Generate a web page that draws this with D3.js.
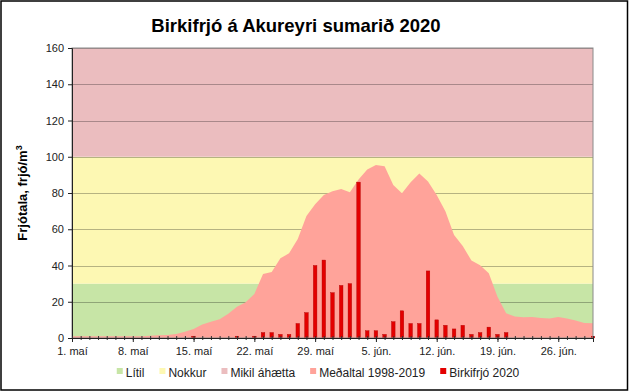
<!DOCTYPE html>
<html>
<head>
<meta charset="utf-8">
<script src="https://d3js.org/d3.v7.min.js"></script>
<style>
  body { margin: 0; background: #fff; }
  text { font-family: "Liberation Sans", Arial, sans-serif; }
</style>
</head>
<body>
<script>
// data, one value per day from 1. maí to 30. jún
const tickLabels = ["1. maí", "8. maí", "15. maí", "22. maí", "29. maí", "5. jún.", "12. jún.", "19. jún.", "26. jún."];
const meanValues = [1, 1, 1, 1, 1, 1, 1, 1, 1, 1.3, 1.5, 1.7, 2.2, 3.5, 5, 7.5, 9, 10.3, 13.4, 17.3,
  19.7, 24.3, 35.3, 36.4, 44, 46.7, 54.6, 67.3, 73.8, 78.9, 80.9, 82.2, 80.4, 87.5, 93, 95.4, 94.7, 84.4, 79.8, 85.9,
  90.7, 86.4, 78.9, 69.9, 56.8, 50.8, 42.7, 40.1, 35.7, 22.8, 13.6, 11.8, 11.4, 11.6, 11, 10.7, 11.6, 10.8, 9.7, 8.3, 8.1];
const values2020 = [0, 0, 0, 0, 0, 0, 0, 0, 0, 0, 0, 0, 0, 0, 1, 0, 0, 0, 0, 1,
  0, 1, 3, 3, 2, 2, 8, 14, 40, 43, 25, 29, 30, 86, 4, 4, 2, 9, 15, 8,
  8, 37, 10, 7, 5, 7, 2, 3, 6, 2, 3, 0, 0, 0, 0, 0, 0, 0, 0, 0, 1];
const bandNames = ["Lítil", "Nokkur", "Mikil áhætta"];
const bandLow = [0, 30, 100];
const bandHigh = [30, 100, 160];
const bandColors = ["#c7e5a6", "#fdf8b3", "#ebbdbf"];
const meanName = "Meðaltal 1998-2019";
const barName = "Birkifrjó 2020";

const width = 629, height = 392;
const margin = {left: 72, right: 36, top: 48, bottom: 54};

const svg = d3.select("body").append("svg")
  .attr("width", width)
  .attr("height", height);

svg.append("rect")
  .attr("x", 1).attr("y", 1)
  .attr("width", width - 2.5).attr("height", height - 3)
  .attr("fill", "#fff")
  .attr("stroke", "#000")
  .attr("stroke-width", 1.5);

const days = d3.range(meanValues.length);

const x = d3.scaleLinear()
  .domain([0, days.length - 1])
  .range([margin.left, width - margin.right]);

const y = d3.scaleLinear()
  .domain([0, 160])
  .range([height - margin.bottom, margin.top]);

// risk bands
svg.selectAll(".band")
  .data(bandNames)
  .enter().append("rect")
  .attr("x", x(0))
  .attr("width", x(days.length - 1) - x(0))
  .attr("y", (d, i) => y(bandHigh[i]))
  .attr("height", (d, i) => y(bandLow[i]) - y(bandHigh[i]))
  .attr("fill", (d, i) => bandColors[i]);

// gridlines
svg.append("g")
  .selectAll("line")
  .data(d3.range(20, 161, 20))
  .enter().append("line")
  .attr("x1", x(0)).attr("x2", x(days.length - 1))
  .attr("y1", d => Math.round(y(d)) + 0.5)
  .attr("y2", d => Math.round(y(d)) + 0.5)
  .attr("stroke", "#000")
  .attr("stroke-opacity", 0.28);

// average 1998-2019
const area = d3.area()
  .x(d => x(d))
  .y0(y(0))
  .y1(d => y(meanValues[d]));

svg.append("path")
  .datum(days)
  .attr("d", area)
  .attr("fill", "#ffa39a");

// 2020 bars
const barW = 3.6;
svg.append("g")
  .selectAll("rect")
  .data(days.filter(d => values2020[d] > 0))
  .enter().append("rect")
  .attr("x", d => x(d) - barW / 2)
  .attr("width", barW)
  .attr("y", d => y(values2020[d]))
  .attr("height", d => y(0) - y(values2020[d]))
  .attr("fill", "#e30000")
  .attr("stroke", "#b00000")
  .attr("stroke-width", 0.4);

// plot border
svg.append("rect")
  .attr("x", x(0)).attr("y", y(160))
  .attr("width", x(days.length - 1) - x(0))
  .attr("height", y(0) - y(160))
  .attr("fill", "none")
  .attr("stroke", "#8a8a8a")
  .attr("stroke-width", 1);

// y axis
const yAxis = svg.append("g")
  .attr("transform", `translate(${x(0)},0)`)
  .call(d3.axisLeft(y).tickValues(d3.range(0, 161, 20)).tickSize(4).tickPadding(4));
yAxis.select(".domain").attr("stroke", "#222");
yAxis.selectAll(".tick line").attr("stroke", "#222");
yAxis.selectAll(".tick text")
  .attr("font-size", 11)
  .attr("fill", "#222")
  .style("font-family", "'Liberation Sans', Arial, sans-serif");

// x axis: minor ticks every day
const xMinor = svg.append("g")
  .attr("transform", `translate(0,${y(0)})`)
  .call(d3.axisBottom(x).tickValues(days).tickSize(2).tickFormat(""));
xMinor.select(".domain").remove();
xMinor.selectAll(".tick line").attr("y1", -2).attr("y2", 2).attr("stroke", "#333");

// x axis: weekly labels
const xAxis = svg.append("g")
  .attr("transform", `translate(0,${y(0)})`)
  .call(d3.axisBottom(x)
    .tickValues(d3.range(0, days.length, 7))
    .tickSize(4)
    .tickPadding(5)
    .tickFormat((d, i) => tickLabels[i]));
xAxis.select(".domain").attr("stroke", "#222");
xAxis.selectAll(".tick line").attr("stroke", "#222");
xAxis.selectAll(".tick text")
  .attr("font-size", 11)
  .attr("fill", "#222")
  .style("font-family", "'Liberation Sans', Arial, sans-serif");

// title
svg.append("text")
  .attr("x", 296)
  .attr("y", 32)
  .attr("text-anchor", "middle")
  .attr("font-size", 18.5)
  .attr("font-weight", "bold")
  .text("Birkifrjó á Akureyri sumarið 2020");

// y axis title
const yTitle = svg.append("text")
  .attr("transform", `translate(27,${(y(0) + y(160)) / 2}) rotate(-90)`)
  .attr("text-anchor", "middle")
  .attr("font-size", 13)
  .attr("font-weight", "bold");
yTitle.append("tspan").text("Frjótala, frjó/m");
yTitle.append("tspan").attr("font-size", 9).attr("dy", -5).text("3");

// legend
const legendItems = bandNames.concat([meanName, barName]);
const legendColors = bandColors.concat(["#ffa39a", "#e30000"]);
const legend = svg.append("g");
let lx = 0;
legendItems.forEach((name, i) => {
  const g = legend.append("g").attr("transform", `translate(${lx},0)`);
  g.append("rect")
    .attr("x", 0).attr("y", -5)
    .attr("width", 6).attr("height", 6)
    .attr("fill", legendColors[i]);
  const t = g.append("text")
    .attr("x", 9).attr("y", 0)
    .attr("dy", "0.32em")
    .attr("font-size", 12)
    .attr("fill", "#222")
    .text(name);
  lx += 9 + t.node().getComputedTextLength() + 15;
});
const legendW = lx - 15;
legend.attr("transform", `translate(${318 - legendW / 2},373)`);
</script>
</body>
</html>
